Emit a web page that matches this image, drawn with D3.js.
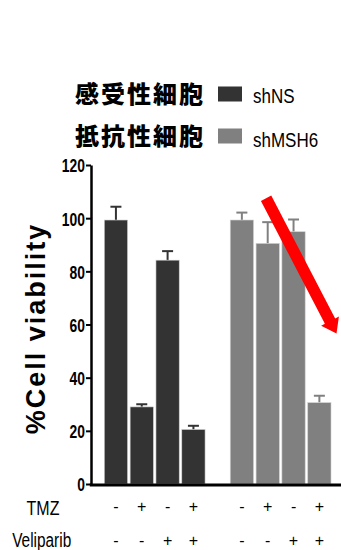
<!DOCTYPE html>
<html>
<head>
<meta charset="utf-8">
<script src="https://cdn.jsdelivr.net/npm/d3@7"></script>
<style>
  body { margin: 0; background: #fff; }
  svg { display: block; }
  text { font-family: "Liberation Sans", Arial, sans-serif; }
  .cjk { font-family: "Noto Sans CJK JP", sans-serif; font-weight: 900; }
</style>
</head>
<body>
<svg id="chart" width="341" height="550"></svg>
<script>
// Cell lines (legend) and their colours
const cellLines = ['shNS', 'shMSH6'];
const cellLabels = ['感受性細胞', '抵抗性細胞'];
const cellColors = ['#333333', '#808080'];

// Treatment conditions per cell line
const conditions = ['ctrl', 'tmz', 'veli', 'both'];
const tmzSigns = ['-', '+', '-', '+'];
const veliSigns = ['-', '-', '+', '+'];

// % cell viability (mean) and upper error
const shNSValues = [99.3, 29.0, 84.2, 20.5];
const shNSErrors = [5.0, 1.0, 3.4, 1.4];
const shMSH6Values = [99.3, 90.5, 94.9, 30.6];
const shMSH6Errors = [2.8, 8.0, 4.6, 2.6];

const yTicks = [0, 20, 40, 60, 80, 100, 120];

const svg = d3.select('#chart');

// squeeze text horizontally (the original uses a condensed face)
function squeeze(sel, sx, x) {
  sel.attr('transform', `scale(${sx},1)`).attr('x', x / sx);
}

const data = [];
cellLines.forEach((line, i) => {
  const vals = i === 0 ? shNSValues : shMSH6Values;
  const errs = i === 0 ? shNSErrors : shMSH6Errors;
  conditions.forEach((c, j) => {
    data.push({ line: line, cond: c, value: vals[j], err: errs[j], color: cellColors[i] });
  });
});

// Scales
const xGroup = d3.scaleBand()
  .domain(cellLines)
  .range([104.3, 331])
  .paddingInner(0.2)
  .paddingOuter(0);

const xCond = d3.scaleBand()
  .domain(conditions)
  .range([0, xGroup.bandwidth()])
  .paddingInner(0.1)
  .paddingOuter(0);

const yScale = d3.scaleLinear()
  .domain([0, 120])
  .range([484, 165]);

const barX = d => xGroup(d.line) + xCond(d.cond);

// Y axis
const yAxis = svg.append('g')
  .attr('class', 'axis axis-y')
  .attr('transform', 'translate(91,0)')
  .call(d3.axisLeft(yScale).tickValues(yTicks).tickSize(5).tickSizeOuter(0));
yAxis.select('.domain').attr('stroke', '#000').attr('stroke-width', 2.5);
yAxis.selectAll('.tick line').attr('stroke', '#000').attr('stroke-width', 2);
yAxis.selectAll('.tick text')
  .attr('fill', '#000')
  .attr('dy', '0.36em')
  .style('font-family', '"Liberation Sans", Arial, sans-serif')
  .style('font-size', '19px')
  .style('font-weight', '700')
  .call(squeeze, 0.73, -6);

// Y axis title
svg.append('text')
  .attr('transform', `translate(45, ${328.5}) rotate(-90)`)
  .attr('text-anchor', 'middle')
  .style('font-weight', '700')
  .style('font-size', '27px')
  .style('letter-spacing', '2px')
  .text('%Cell viability');

// Error bars (upper only)
const errG = svg.append('g').attr('class', 'errors');
errG.selectAll('line.stem')
  .data(data)
  .enter()
  .append('line')
    .attr('x1', d => barX(d) + xCond.bandwidth() / 2)
    .attr('x2', d => barX(d) + xCond.bandwidth() / 2)
    .attr('y1', d => yScale(d.value))
    .attr('y2', d => yScale(d.value + d.err))
    .attr('stroke', d => d.color)
    .attr('stroke-width', 2);
errG.selectAll('line.cap')
  .data(data)
  .enter()
  .append('line')
    .attr('x1', d => barX(d) + xCond.bandwidth() / 2 - 5.5)
    .attr('x2', d => barX(d) + xCond.bandwidth() / 2 + 5.5)
    .attr('y1', d => yScale(d.value + d.err))
    .attr('y2', d => yScale(d.value + d.err))
    .attr('stroke', d => d.color)
    .attr('stroke-width', 2);

// Bars
svg.append('g').attr('class', 'bars')
  .selectAll('.bar')
  .data(data)
  .enter()
  .append('rect')
    .attr('class', 'bar')
    .attr('x', d => barX(d))
    .attr('y', d => yScale(d.value))
    .attr('width', xCond.bandwidth())
    .attr('height', d => yScale(0) - yScale(d.value))
    .attr('fill', d => d.color)
    .attr('stroke', '#cfcfcf')
    .attr('stroke-width', 0.6);

// X axis baseline
svg.append('line')
  .attr('x1', 89.8)
  .attr('x2', 341)
  .attr('y1', yScale(0) + 1)
  .attr('y2', yScale(0) + 1)
  .attr('stroke', '#000')
  .attr('stroke-width', 3);

// Legend
const legend = svg.append('g').attr('class', 'legend');
cellLines.forEach((line, i) => {
  const cy = 94 + i * 42;
  legend.append('text')
    .attr('class', 'cjk')
    .attr('x', 75)
    .attr('y', cy + 9)
    .style('font-size', '24px')
    .style('letter-spacing', '2px')
    .text(cellLabels[i]);
  legend.append('rect')
    .attr('x', 218)
    .attr('y', cy - 7.5)
    .attr('width', 24)
    .attr('height', 15)
    .attr('fill', cellColors[i]);
  legend.append('text')
    .attr('y', cy + 9 + i * 2)
    .style('font-size', '20px')
    .text(line)
    .call(squeeze, 0.85, 253);
});

// Treatment sign rows
const rows = [
  { name: 'TMZ', signs: tmzSigns, y: 515, sy: 512, x: 43, sx: 0.8 },
  { name: 'Veliparib', signs: veliSigns, y: 547, sy: 546, x: 41.7, sx: 0.77 }
];
rows.forEach(r => {
  svg.append('text')
    .attr('y', r.y)
    .attr('text-anchor', 'middle')
    .style('font-size', '20px')
    .text(r.name)
    .call(squeeze, r.sx, r.x);
  svg.append('g')
    .selectAll('text')
    .data(data)
    .enter()
    .append('text')
      .attr('x', d => barX(d) + xCond.bandwidth() / 2)
      .attr('y', r.sy)
      .attr('text-anchor', 'middle')
      .style('font-size', '16px')
      .text(d => r.signs[conditions.indexOf(d.cond)]);
});

// Red arrow annotation over the shMSH6 group
const arrowStart = [xGroup('shMSH6') + xCond('tmz') + 10, yScale(107.5)];
const arrowEnd = [336.5, yScale(56.6)];
const ang = Math.atan2(arrowEnd[1] - arrowStart[1], arrowEnd[0] - arrowStart[0]);
const headLen = 14, headHalf = 10, shaftHalf = 5.8;
const bx = arrowEnd[0] - headLen * Math.cos(ang);
const by = arrowEnd[1] - headLen * Math.sin(ang);
const nx = -Math.sin(ang), ny = Math.cos(ang);
const arrowPts = [
  [arrowStart[0] + nx * shaftHalf, arrowStart[1] + ny * shaftHalf],
  [bx + nx * shaftHalf, by + ny * shaftHalf],
  [bx + nx * headHalf, by + ny * headHalf],
  arrowEnd,
  [bx - nx * headHalf, by - ny * headHalf],
  [bx - nx * shaftHalf, by - ny * shaftHalf],
  [arrowStart[0] - nx * shaftHalf, arrowStart[1] - ny * shaftHalf]
];
svg.append('path')
  .attr('d', d3.line()(arrowPts) + 'Z')
  .attr('fill', '#ff0000');
</script>
</body>
</html>
